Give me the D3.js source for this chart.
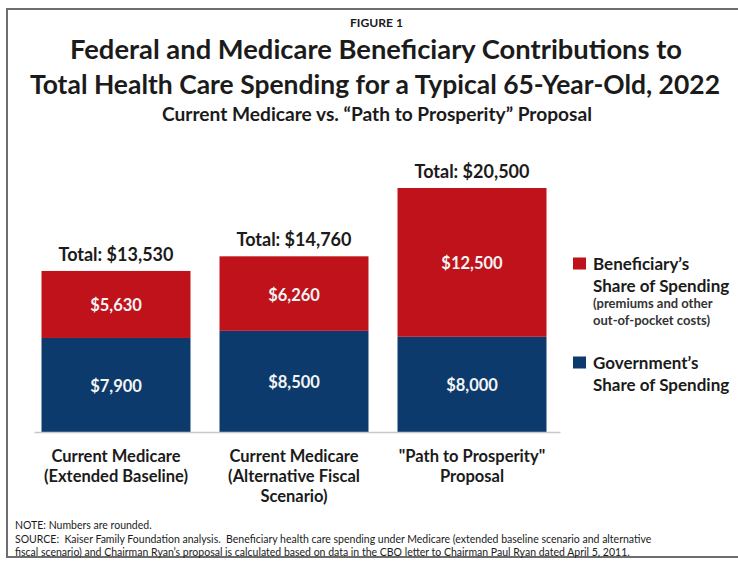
<!DOCTYPE html>
<html>
<head>
<meta charset="utf-8">
<script src="https://cdn.jsdelivr.net/npm/d3@7"></script>
<style>
  body { margin: 0; background: #fff; }
  svg { display: block; font-family: Lato, "Open Sans", sans-serif; }
</style>
</head>
<body>
<div id="chart"></div>
<script>
// chart data
const categories = ["baseline", "altFiscal", "prosperity"];
const categoryLabels = [
  ["Current Medicare", "(Extended Baseline)"],
  ["Current Medicare", "(Alternative Fiscal", "Scenario)"],
  ["\"Path to Prosperity\"", "Proposal"]
];
const government = [7900, 8500, 8000];
const beneficiary = [5630, 6260, 12500];
const seriesKeys = ["government", "beneficiary"];
const legendLabels = [
  ["Beneficiary\u2019s", "Share of Spending"],
  ["Government\u2019s", "Share of Spending"]
];
const legendNote = ["(premiums and other", "out-of-pocket costs)"];

const width = 738, height = 563;
const red = "#c0121b", blue = "#0c3a6c", ink = "#1b1b1b";

const rows = categories.map((c, i) => ({ cat: c, government: government[i], beneficiary: beneficiary[i] }));
const totals = rows.map(d => d.government + d.beneficiary);
const fmt = d3.format("$,");

const svg = d3.select("#chart").append("svg")
  .attr("width", width)
  .attr("height", height);

svg.append("rect").attr("width", width).attr("height", height).attr("fill", "#fff");

// outer frame
svg.append("rect")
  .attr("x", 7).attr("y", 9)
  .attr("width", 745).attr("height", 548)
  .attr("fill", "none")
  .attr("stroke", "#6e6e6e")
  .attr("stroke-width", 2);

// titles (widths squeezed to the original's narrower face)
function title(txt, cx, y, size, len) {
  svg.append("text").attr("x", cx).attr("y", y).attr("text-anchor", "middle")
    .attr("font-size", size).attr("font-weight", 700).attr("fill", ink)
    .attr("textLength", len).attr("lengthAdjust", "spacingAndGlyphs")
    .text(txt);
}
title("FIGURE 1", 376.5, 27, 11.5, 53);
title("Federal and Medicare Beneficiary Contributions to", 376, 59, 27, 612);
title("Total Health Care Spending for a Typical 65-Year-Old, 2022", 375, 94, 26.5, 690);
title("Current Medicare vs. \u201cPath to Prosperity\u201d Proposal", 377, 121, 18.5, 430);

// scales
const x = d3.scaleBand()
  .domain(categories)
  .range([41.5, 546.5])
  .paddingInner(0.163)
  .paddingOuter(0);

const y = d3.scaleLinear()
  .domain([0, d3.max(totals)])
  .range([432, 188]);

const color = d3.scaleOrdinal().domain(seriesKeys).range([blue, red]);

const stacked = d3.stack().keys(seriesKeys)(rows);

const layers = svg.append("g").selectAll("g")
  .data(stacked)
  .join("g")
  .attr("fill", d => color(d.key));

layers.selectAll("rect")
  .data(d => d)
  .join("rect")
  .attr("x", d => x(d.data.cat))
  .attr("y", d => y(d[1]))
  .attr("width", x.bandwidth())
  .attr("height", d => y(d[0]) - y(d[1]));

// segment value labels
layers.selectAll("text")
  .data(d => d.map(v => ({ v, key: d.key })))
  .join("text")
  .attr("x", d => x(d.v.data.cat) + x.bandwidth() / 2)
  .attr("y", d => (y(d.v[0]) + y(d.v[1])) / 2 + 7)
  .attr("text-anchor", "middle")
  .attr("font-size", 16.5)
  .attr("font-weight", 700)
  .attr("fill", "#f4f4f4")
  .text(d => fmt(d.v.data[d.key]));

// totals above bars
svg.append("g").selectAll("text")
  .data(rows)
  .join("text")
  .attr("x", d => x(d.cat) + x.bandwidth() / 2)
  .attr("y", (d, i) => y(totals[i]) - 10)
  .attr("text-anchor", "middle")
  .attr("font-size", 18)
  .attr("font-weight", 700)
  .attr("fill", ink)
  .text((d, i) => "Total: " + fmt(totals[i]));

// baseline axis
const axis = svg.append("g")
  .attr("transform", `translate(0,${y(0)})`)
  .call(d3.axisBottom(x).tickSize(0).tickFormat(""));
axis.select(".domain")
  .attr("d", `M${x.range()[0] - 7},0.5H${x.range()[1] + 14}`)
  .attr("stroke", "#c8c8c8")
  .attr("stroke-width", 1.5);

// category labels
const cat = svg.append("g").selectAll("text")
  .data(categories)
  .join("text")
  .attr("text-anchor", "middle")
  .attr("font-size", 16.5)
  .attr("font-weight", 700)
  .attr("fill", ink);
cat.selectAll("tspan")
  .data((d, i) => categoryLabels[i].map(t => ({ t, c: d })))
  .join("tspan")
  .attr("x", d => x(d.c) + x.bandwidth() / 2)
  .attr("y", (d, j) => 462 + j * 20)
  .text(d => d.t);

// legend
const legend = svg.append("g").attr("transform", "translate(573,0)");
const legendKeys = ["beneficiary", "government"];
const legendTop = [257.5, 356.5];
legendKeys.forEach((k, i) => {
  legend.append("rect")
    .attr("x", 0).attr("y", legendTop[i])
    .attr("width", 13).attr("height", 12)
    .attr("fill", color(k));
  const t = legend.append("text")
    .attr("font-size", 17).attr("font-weight", 700).attr("fill", ink);
  legendLabels[i].forEach((line, j) => {
    t.append("tspan").attr("x", 20).attr("y", legendTop[i] + 12 + j * 22.5).text(line);
  });
});
const note = legend.append("text")
  .attr("font-size", 13).attr("font-weight", 700).attr("fill", "#333");
legendNote.forEach((line, j) => {
  note.append("tspan").attr("x", 20).attr("y", 308 + j * 17).text(line);
});

// footnotes
const foot = svg.append("text").attr("font-size", 10.5).attr("fill", ink);
[
  "NOTE: Numbers are rounded.",
  "SOURCE:  Kaiser Family Foundation analysis.  Beneficiary health care spending under Medicare (extended baseline scenario and alternative",
  "fiscal scenario) and Chairman Ryan\u2019s proposal is calculated based on data in the CBO letter to Chairman Paul Ryan dated April 5, 2011."
].forEach((line, j) => {
  foot.append("tspan").attr("x", 15).attr("y", 529 + j * 13.5).attr("xml:space", "preserve").text(line);
});
</script>
</body>
</html>
